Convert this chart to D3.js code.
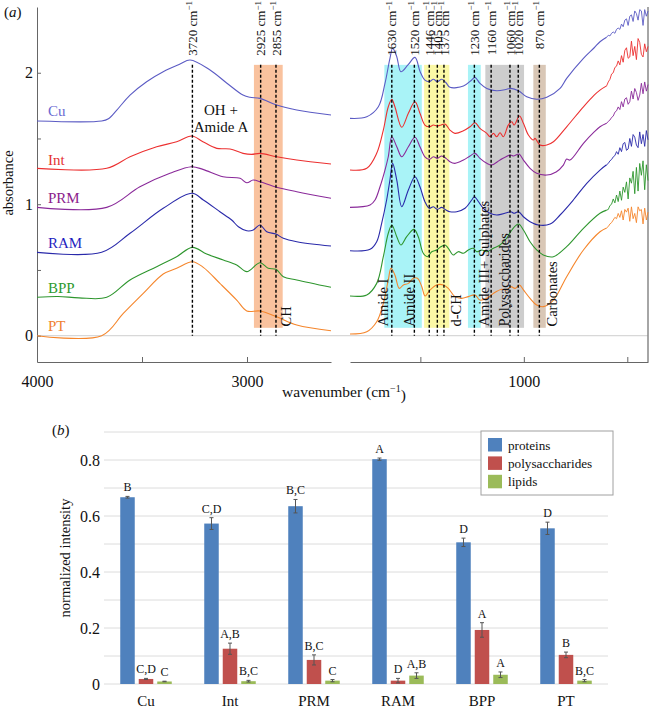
<!DOCTYPE html>
<html><head><meta charset="utf-8">
<script src="https://cdn.jsdelivr.net/npm/d3@7"></script>
<style>
body{margin:0;background:#fff;}
svg text{font-family:"Liberation Serif","Times New Roman",serif;}
</style></head>
<body><svg id="c" width="654" height="709"></svg>
<script>
// ---------- Panel (a): spectra, [wavenumber, absorbance] ----------
const cuLeft = [[4000,1.633],[3692,1.633],[3660,1.65],[3620,1.716],[3557,1.830],[3478,1.932],[3399,2.008],[3319,2.066],[3271,2.097],[3176,2.021],[3097,1.922],[3019,1.830],[2986,1.813],[2938,1.805],[2859,1.754],[2763,1.716],[2600,1.678]];
const intLeft = [[4000,1.273],[3668,1.273],[3557,1.361],[3430,1.437],[3335,1.475],[3263,1.519],[3210,1.475],[3144,1.425],[3081,1.420],[3019,1.387],[2978,1.379],[2938,1.387],[2859,1.361],[2763,1.336],[2600,1.306]];
const prmLeft = [[4000,0.976],[3668,0.976],[3510,1.133],[3367,1.235],[3263,1.285],[3210,1.265],[3114,1.209],[3033,1.197],[3001,1.163],[2971,1.184],[2938,1.171],[2859,1.129],[2763,1.095],[2600,1.045]];
const ramLeft = [[4000,0.634],[3692,0.634],[3557,0.779],[3399,0.969],[3262,1.083],[3208,1.032],[3129,0.943],[3073,0.880],[3041,0.829],[3001,0.798],[2970,0.804],[2938,0.842],[2906,0.791],[2862,0.773],[2827,0.741],[2763,0.715],[2600,0.682]];
const bppLeft = [[4000,0.292],[3900,0.298],[3800,0.288],[3668,0.292],[3557,0.424],[3430,0.525],[3335,0.601],[3260,0.672],[3192,0.621],[3113,0.576],[3049,0.538],[3001,0.487],[2938,0.555],[2899,0.513],[2862,0.505],[2827,0.449],[2763,0.424],[2600,0.368]];
const ptLeft = [[4000,0],[3692,0],[3589,0.170],[3494,0.322],[3399,0.469],[3335,0.513],[3260,0.563],[3208,0.520],[3129,0.398],[3049,0.271],[3001,0.188],[2938,0.188],[2859,0.144],[2763,0.081],[2600,0.038]];

const cuRight = [[1840,1.653],[1759,1.665],[1703,1.741],[1671,1.919],[1647,2.109],[1634,2.186],[1614,2.122],[1594,2.008],[1560,2.059],[1526,2.117],[1501,2.008],[1478,1.944],[1457,1.932],[1437,1.950],[1418,1.932],[1397,1.950],[1376,1.924],[1357,1.889],[1292,1.899],[1252,1.945],[1236,1.965],[1212,1.919],[1179,1.881],[1131,1.863],[1083,1.874],[1063,1.881],[1026,1.863],[986,1.817],[938,1.798],[889,1.813],[825,1.881],[793,1.957],[712,2.109],[660,2.19],[632,2.236],[600,2.27],[592,2.285],[584,2.28],[576,2.30],[568,2.31],[560,2.30],[552,2.33],[544,2.34],[536,2.33],[528,2.37],[520,2.35],[512,2.40],[504,2.41],[496,2.36],[488,2.43],[480,2.44],[472,2.39],[464,2.47],[456,2.45],[448,2.40],[440,2.48],[432,2.47],[424,2.36],[416,2.48],[408,2.43],[400,2.47]];
const intRight = [[1840,1.260],[1759,1.273],[1711,1.387],[1679,1.564],[1655,1.741],[1638,1.798],[1623,1.741],[1590,1.585],[1558,1.692],[1526,1.779],[1502,1.692],[1478,1.602],[1457,1.589],[1437,1.602],[1420,1.595],[1405,1.600],[1381,1.610],[1357,1.564],[1333,1.539],[1292,1.559],[1260,1.589],[1236,1.620],[1212,1.577],[1179,1.539],[1163,1.513],[1147,1.539],[1131,1.513],[1115,1.544],[1099,1.513],[1075,1.602],[1058,1.627],[1047,1.602],[1021,1.671],[1002,1.615],[978,1.526],[954,1.488],[946,1.501],[922,1.450],[889,1.450],[857,1.475],[793,1.589],[712,1.741],[660,1.83],[632,1.868],[600,1.90],[592,1.93],[584,1.95],[576,1.99],[568,2.00],[560,2.04],[552,2.05],[544,2.09],[536,2.06],[528,2.13],[520,2.08],[512,2.17],[504,2.19],[496,2.11],[488,2.12],[480,2.24],[472,2.13],[464,2.20],[456,2.10],[448,2.26],[440,2.23],[432,2.14],[424,2.12],[416,2.22],[408,2.16],[400,2.20]];
const prmRight = [[1840,0.976],[1743,0.994],[1719,1.032],[1695,1.133],[1671,1.260],[1655,1.361],[1638,1.513],[1614,1.437],[1590,1.361],[1558,1.437],[1526,1.509],[1502,1.437],[1478,1.361],[1457,1.341],[1437,1.361],[1418,1.349],[1397,1.367],[1376,1.349],[1357,1.323],[1333,1.311],[1292,1.336],[1260,1.367],[1236,1.387],[1212,1.349],[1179,1.311],[1155,1.298],[1115,1.336],[1066,1.374],[1050,1.367],[1023,1.382],[1002,1.336],[970,1.273],[938,1.235],[889,1.222],[844,1.245],[809,1.298],[793,1.344],[777,1.336],[712,1.463],[660,1.55],[632,1.589],[600,1.615],[592,1.63],[584,1.64],[576,1.66],[568,1.67],[560,1.70],[552,1.71],[544,1.74],[536,1.72],[528,1.78],[520,1.74],[512,1.80],[504,1.81],[496,1.76],[488,1.78],[480,1.86],[472,1.80],[464,1.88],[456,1.85],[448,1.79],[440,1.83],[432,1.92],[424,1.84],[416,1.93],[408,1.86],[400,1.91]];
const ramRight = [[1840,0.646],[1743,0.657],[1711,0.715],[1687,0.855],[1663,1.032],[1647,1.184],[1634,1.311],[1614,1.184],[1590,0.981],[1558,1.108],[1526,1.209],[1502,1.133],[1478,1.019],[1457,0.969],[1437,0.981],[1418,0.961],[1397,0.976],[1376,0.956],[1357,0.943],[1324,0.943],[1284,0.969],[1252,1.032],[1239,1.057],[1219,1.019],[1196,0.969],[1163,0.931],[1131,0.918],[1083,0.935],[1063,0.943],[1047,0.931],[1026,0.943],[1002,0.905],[970,0.867],[930,0.842],[873,0.849],[825,0.918],[761,1.032],[696,1.159],[632,1.260],[600,1.30],[592,1.31],[584,1.33],[576,1.34],[568,1.36],[560,1.37],[552,1.40],[544,1.38],[536,1.43],[528,1.40],[520,1.46],[512,1.47],[504,1.41],[496,1.42],[488,1.50],[480,1.44],[472,1.53],[464,1.51],[456,1.45],[448,1.43],[440,1.55],[432,1.46],[424,1.53],[416,1.44],[408,1.56],[400,1.49]];
const bppRight = [[1840,0.302],[1759,0.310],[1711,0.398],[1679,0.601],[1655,0.779],[1638,0.842],[1614,0.753],[1594,0.690],[1566,0.753],[1531,0.809],[1510,0.753],[1486,0.627],[1466,0.601],[1445,0.639],[1421,0.652],[1405,0.672],[1381,0.690],[1365,0.665],[1341,0.614],[1317,0.639],[1292,0.627],[1268,0.652],[1244,0.665],[1228,0.639],[1203,0.652],[1179,0.639],[1147,0.665],[1115,0.690],[1083,0.741],[1058,0.804],[1026,0.849],[1002,0.804],[970,0.715],[938,0.652],[906,0.614],[857,0.601],[793,0.677],[712,0.817],[632,0.931],[600,0.955],[592,0.96],[584,0.99],[576,1.00],[568,1.04],[560,1.01],[552,1.07],[544,1.02],[536,1.10],[528,1.03],[520,1.13],[512,1.09],[504,1.17],[496,1.04],[488,1.20],[480,1.16],[472,1.25],[464,1.08],[456,1.28],[448,1.10],[440,1.31],[432,1.22],[424,1.33],[416,1.11],[408,1.30],[400,1.18]];
const ptRight = [[1840,0.013],[1759,0.030],[1711,0.106],[1679,0.246],[1655,0.424],[1642,0.513],[1623,0.462],[1602,0.360],[1582,0.386],[1558,0.398],[1534,0.437],[1514,0.437],[1493,0.373],[1477,0.302],[1453,0.348],[1421,0.386],[1389,0.386],[1365,0.360],[1333,0.297],[1300,0.284],[1268,0.297],[1236,0.310],[1212,0.271],[1179,0.284],[1147,0.322],[1107,0.353],[1083,0.348],[1063,0.373],[1042,0.360],[1021,0.386],[1002,0.348],[970,0.284],[938,0.233],[906,0.221],[857,0.271],[793,0.449],[712,0.652],[632,0.791],[600,0.82],[592,0.83],[584,0.85],[576,0.86],[568,0.88],[560,0.90],[552,0.89],[544,0.93],[536,0.90],[528,0.95],[520,0.88],[512,0.96],[504,0.94],[496,0.97],[488,0.87],[480,0.98],[472,0.89],[464,0.93],[456,0.86],[448,0.98],[440,0.95],[432,0.96],[424,0.85],[416,0.97],[408,0.88],[400,0.94]];

const sampleNames = ["Cu","Int","PRM","RAM","BPP","PT"];
const sampleColors = ["#5b5bc4","#ec3030","#8a2a9a","#2a2aaa","#2e962e","#f5862c"];
const labelColors = ["#6a6ad2","#e43232","#8c1c8c","#1f1fc0","#2e9a2e","#f08030"];
const labelBaselineAbs = [1.670,1.298,1.011,0.668,0.326,0.036];

// peak markers: label text and position
const leftPeakLabels = ["3720","2925","2855"];
const leftPeakPos = [3260,2935,2862];
const rightPeakLabels = ["1630","1520","1446","1405","1375","1230","1160","1060","1020","870"];
const rightPeakPos = [1638,1529,1457,1418,1386,1239,1158,1067,1027,925];

// shaded bands [from, to] in wavenumber
const leftBands = [[2967,2830]];
const leftBandColors = ["#f9c29e"];
const rightBands = [[1674,1493],[1482,1360],[1270,1208],[1186,999],[954,894]];
const rightBandColors = ["#a9f3f7","#fbf8a6","#cdcdcd","#d9c7b6"];
const rightBandColorIdx = [0,1,0,2,3];

const assignLabels = ["Amide I","Amide II","d-CH","Amide III+ Sulphates","Polysaccharides","Carbonates"];
const assignPos = [1680,1555,1328,1192,1096,863];

// ---------- Panel (b) ----------
const categories = ["Cu","Int","PRM","RAM","BPP","PT"];
const seriesNames = ["proteins","polysaccharides","lipids"];
const seriesColors = ["#4f81bd","#c0504d","#9bbb59"];
const proteins = [0.667,0.573,0.635,0.803,0.506,0.556];
const polysaccharides = [0.018,0.126,0.086,0.012,0.193,0.104];
const lipids = [0.009,0.010,0.012,0.030,0.033,0.012];
const proteinsErr = [0.003,0.021,0.024,0.004,0.015,0.022];
const polysaccharidesErr = [0.002,0.020,0.018,0.008,0.026,0.010];
const lipidsErr = [0.001,0.003,0.004,0.010,0.010,0.004];
const proteinsLetters = ["B","C,D","B,C","A","D","D"];
const polysaccharidesLetters = ["C,D","A,B","B,C","D","A","B"];
const lipidsLetters = ["C","B,C","C","A,B","A","B,C"];
const yTicksB = [0,0.2,0.4,0.6,0.8];

// ================= drawing =================
const svg = d3.select("#c");
const serif = '"Liberation Serif","Times New Roman",serif';

const xL = d3.scaleLinear().domain([4000,2600]).range([37,331]);
const xR = d3.scaleLinear().domain([1840,400]).range([350,648]);
const y = d3.scaleLinear().domain([-0.2,2.5]).range([362,7]);

const bandTop = 2.06, bandBot = 0.06;
svg.append("g").selectAll("rect").data(leftBands).join("rect")
  .attr("x", d=>xL(d[0])).attr("width", d=>xL(d[1])-xL(d[0]))
  .attr("y", y(bandTop)).attr("height", y(bandBot)-y(bandTop))
  .attr("fill", (d,i)=>leftBandColors[i]);
svg.append("g").selectAll("rect").data(rightBands).join("rect")
  .attr("x", d=>xR(d[0])).attr("width", d=>xR(d[1])-xR(d[0]))
  .attr("y", y(bandTop)).attr("height", y(bandBot)-y(bandTop))
  .attr("fill", (d,i)=>rightBandColors[rightBandColorIdx[i]]);

svg.append("line").attr("x1",xL(4000)).attr("x2",xR(400)).attr("y1",y(0)).attr("y2",y(0))
  .attr("stroke","#cfcfcf").attr("stroke-width",1);

const axL = svg.append("g").attr("transform",`translate(0,${y(-0.2)})`)
  .call(d3.axisBottom(xL).tickValues([4000,3500,3000]).tickSizeInner(-5).tickSizeOuter(0).tickPadding(8).tickFormat(d=> d===3500?"":d));
const axR = svg.append("g").attr("transform",`translate(0,${y(-0.2)})`)
  .call(d3.axisBottom(xR).tickValues([1500,1000,500]).tickSizeInner(-5).tickSizeOuter(0).tickPadding(8).tickFormat(d=> d===1000?"1000":""));
const axY = svg.append("g").attr("transform",`translate(${xL(4000)},0)`)
  .call(d3.axisLeft(y).tickValues([0,0.5,1,1.5,2]).tickSizeInner(-4).tickSizeOuter(0).tickPadding(4).tickFormat(d=> Number.isInteger(d)? d : ""));
[axL,axR,axY].forEach(a=>{
  a.attr("font-family",serif);
  a.select(".domain").attr("stroke","#666");
  a.selectAll(".tick line").attr("stroke","#666");
  a.selectAll(".tick text").attr("font-family",serif).attr("font-size",16).attr("fill","#111");
});
axL.selectAll(".tick text").attr("dy","1.05em");
axR.selectAll(".tick text").attr("dy","1.05em");
svg.append("line").attr("x1",xR(400)).attr("x2",xR(400)).attr("y1",y(2.5)).attr("y2",y(-0.2))
  .attr("stroke","#888").attr("stroke-width",1.5);

// spectra
const leftSets = [cuLeft,intLeft,prmLeft,ramLeft,bppLeft,ptLeft];
const rightSets = [cuRight,intRight,prmRight,ramRight,bppRight,ptRight];
const lineLs = d3.line().x(d=>xL(d[0])).y(d=>y(d[1])).curve(d3.curveCatmullRom.alpha(0.5));
const lineR = d3.line().x(d=>xR(d[0])).y(d=>y(d[1]));
const lineRs = d3.line().x(d=>xR(d[0])).y(d=>y(d[1])).curve(d3.curveCatmullRom.alpha(0.5));
leftSets.forEach((s,i)=>{
  svg.append("path").attr("d",lineLs(s)).attr("fill","none").attr("stroke",sampleColors[i]).attr("stroke-width",1.1);
});
rightSets.forEach((s,i)=>{
  const smooth = s.filter(d=>d[0]>=600);
  const noisy = s.filter(d=>d[0]<=600);
  svg.append("path").attr("d",lineRs(smooth)).attr("fill","none").attr("stroke",sampleColors[i]).attr("stroke-width",1.1);
  svg.append("path").attr("d",lineR(noisy)).attr("fill","none").attr("stroke",sampleColors[i]).attr("stroke-width",0.9).attr("stroke-linejoin","round");
});

// dashed peak lines
function vline(x){
  svg.append("line").attr("x1",x).attr("x2",x).attr("y1",y(bandTop)).attr("y2",y(0))
    .attr("stroke","#000").attr("stroke-width",1.4).attr("stroke-dasharray","3,2");
}
leftPeakPos.forEach(p=>vline(xL(p)));
rightPeakPos.forEach(p=>vline(xR(p)));

function peakLabel(x,txt){
  const t = svg.append("text").attr("transform",`translate(${x},1) rotate(-90)`)
    .attr("text-anchor","end").attr("dy","0.35em").attr("font-size",13).attr("fill","#111");
  t.append("tspan").text(txt+" cm");
  t.append("tspan").text("\u22121").attr("font-size",9).attr("dy","-0.5em");
}
leftPeakPos.forEach((p,i)=>peakLabel(xL(p),leftPeakLabels[i]));
rightPeakPos.forEach((p,i)=>peakLabel(xR(p),rightPeakLabels[i]));

assignLabels.forEach((t,i)=>{
  svg.append("text").attr("transform",`translate(${xR(assignPos[i])},${y(0.07)}) rotate(-90)`)
    .attr("text-anchor","start").attr("dy","0.35em").attr("font-size",14.5).attr("fill","#111").text(t);
});
svg.append("text").attr("transform",`translate(${xL(2817)},${y(0.07)}) rotate(-90)`)
  .attr("text-anchor","start").attr("dy","0.35em").attr("font-size",14.5).attr("fill","#111").text("CH");
svg.append("text").attr("x",xL(3124)).attr("y",y(1.68)).attr("text-anchor","middle").attr("font-size",15).attr("fill","#111").text("OH +");
svg.append("text").attr("x",xL(3124)).attr("y",y(1.553)).attr("text-anchor","middle").attr("font-size",15).attr("fill","#111").text("Amide A");

sampleNames.forEach((n,i)=>{
  svg.append("text").attr("x",48).attr("y",y(labelBaselineAbs[i])).attr("font-size",15)
    .attr("fill",labelColors[i]).text(n);
});
svg.append("text").attr("x",4).attr("y",17).attr("font-size",15).attr("fill","#111")
  .html('(<tspan font-style="italic">a</tspan>)');
svg.append("text").attr("transform","translate(13,183) rotate(-90)").attr("text-anchor","middle")
  .attr("font-size",14.5).attr("fill","#111").text("absorbance");
const wl = svg.append("text").attr("x",344).attr("y",397).attr("text-anchor","middle").attr("font-size",15.5).attr("fill","#111");
wl.append("tspan").text("wavenumber (cm");
wl.append("tspan").text("\u22121").attr("font-size",10).attr("dy","-0.5em");
wl.append("tspan").text(")").attr("dy","0.5em").attr("font-size",15.5);

// ================= panel (b) =================
const xb = d3.scaleBand().domain(categories).range([104,608]);
const xs = d3.scaleBand().domain(seriesNames).range([0,xb.bandwidth()]).paddingInner(0.216).paddingOuter(0.878);
const yb = d3.scaleLinear().domain([0,0.9]).range([684,432]);

svg.append("g").selectAll("line").data(d3.range(0,0.91,0.1)).join("line")
  .attr("x1",104).attr("x2",608).attr("y1",d=>yb(d)).attr("y2",d=>yb(d))
  .attr("stroke","#dcdcdc").attr("stroke-width",1);
svg.append("g").selectAll("text").data(yTicksB).join("text")
  .attr("x",100).attr("y",d=>yb(d)).attr("dy","0.35em").attr("text-anchor","end")
  .attr("font-size",16).attr("fill","#111").text(d=> d===0?"0":d3.format(".1f")(d));
svg.append("g").selectAll("text").data(categories).join("text")
  .attr("x",d=>xb(d)+xb.bandwidth()/2).attr("y",706).attr("text-anchor","middle")
  .attr("font-size",15).attr("fill","#111").text(d=>d);

const seriesVals = [proteins,polysaccharides,lipids];
const seriesErr = [proteinsErr,polysaccharidesErr,lipidsErr];
const seriesLet = [proteinsLetters,polysaccharidesLetters,lipidsLetters];
seriesNames.forEach((s,si)=>{
  const g = svg.append("g");
  categories.forEach((c,ci)=>{
    const v = seriesVals[si][ci], e = seriesErr[si][ci];
    const bx = xb(c)+xs(s), bw = xs.bandwidth(), cx = bx+bw/2;
    g.append("rect").attr("x",bx).attr("width",bw).attr("y",yb(v)).attr("height",yb(0)-yb(v))
      .attr("fill",seriesColors[si]);
    g.append("line").attr("x1",cx).attr("x2",cx).attr("y1",yb(v-e)).attr("y2",yb(v+e)).attr("stroke","#555").attr("stroke-width",1);
    [v-e,v+e].forEach(t=>g.append("line").attr("x1",cx-2).attr("x2",cx+2).attr("y1",yb(t)).attr("y2",yb(t)).attr("stroke","#555").attr("stroke-width",1));
    g.append("text").attr("x",cx).attr("y",yb(v+e)-5).attr("text-anchor","middle").attr("font-size",12)
      .attr("fill","#111").text(seriesLet[si][ci]);
  });
});

const lg = svg.append("g");
lg.append("rect").attr("x",481).attr("y",431).attr("width",132).attr("height",64).attr("fill","#fff").attr("stroke","#a0a0a0");
seriesNames.forEach((s,i)=>{
  lg.append("rect").attr("x",488).attr("y",438+i*18.4).attr("width",14).attr("height",13.5).attr("fill",seriesColors[i]);
  lg.append("text").attr("x",508).attr("y",449.5+i*18.4).attr("font-size",13.2).attr("fill","#111").text(s);
});

svg.append("text").attr("x",52).attr("y",435).attr("font-size",15).attr("fill","#111")
  .html('(<tspan font-style="italic">b</tspan>)');
svg.append("text").attr("transform","translate(70,558) rotate(-90)").attr("text-anchor","middle")
  .attr("font-size",14.5).attr("fill","#111").text("normalized intensity");
</script>
</body></html>
